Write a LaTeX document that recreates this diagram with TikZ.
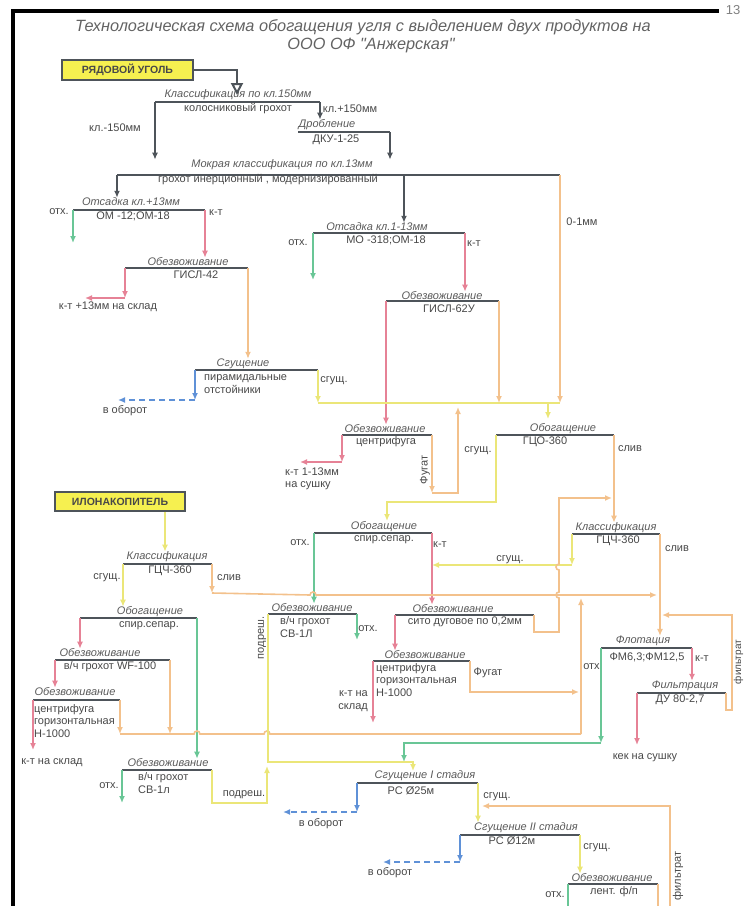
\documentclass[tikz,border=0pt]{standalone}
\usepackage{fontspec}
\setmainfont{Liberation Sans}
\newfontfamily\titrefont{Liberation Sans}[Ligatures=TeXOff]
\usepackage{tikz}
\usetikzlibrary{arrows.meta}

\definecolor{grisfonce}{RGB}{78,84,90}
\definecolor{gristexte}{RGB}{72,72,72}
\definecolor{vert}{RGB}{105,198,150}
\definecolor{rose}{RGB}{230,130,150}
\definecolor{peche}{RGB}{243,193,140}
\definecolor{jaune}{RGB}{235,230,120}
\definecolor{bleu}{RGB}{95,145,215}
\definecolor{fondjaune}{RGB}{246,240,80}

\tikzset{
  barre/.style={draw=grisfonce, line width=2pt},
  titre/.style={font=\itshape\fontsize{11}{13}\selectfont, text=gristexte!90, inner sep=0pt},
  texte/.style={font=\fontsize{11}{12.5}\selectfont, text=gristexte, inner sep=0pt},
  flux/.style={->, >={Latex[length=7pt, width=6pt]}, line width=1.6pt},
  trait/.style={line width=1.6pt},
  boite/.style={draw=grisfonce, line width=1.8pt, fill=fondjaune, inner sep=0pt,
    font=\bfseries\fontsize{10.5}{12}\selectfont, text=gristexte},
}

\begin{document}
\begin{tikzpicture}[x=1pt, y=-1pt]
\useasboundingbox (0,0) rectangle (744,906);

% Cadre de la page
\draw[line width=4pt] (12.5,906) -- (12.5,10.5) -- (719,10.5);
\node[font=\fontsize{13}{13}\selectfont, text=gray] (page) at (733,10) {13};

% Titre
\node[font=\titrefont\itshape\fontsize{16.3}{19}\selectfont, text=gristexte!85] (titre1) at (363,27)
  {Технологическая схема обогащения угля с выделением двух продуктов на};
\node[font=\titrefont\itshape\fontsize{16.3}{19}\selectfont, text=gristexte!85] (titre2) at (371,45)
  {ООО ОФ "Анжерская"};

% Les deux alimentations
\node[boite, minimum width=131pt, minimum height=20pt] (roc) at (127.5,70) {РЯДОВОЙ УГОЛЬ};
\node[boite, minimum width=130pt, minimum height=19pt] (ilon) at (120,501.5) {ИЛОНАКОПИТЕЛЬ};

% Barres des opérations : nom / début / fin / hauteur
\foreach \nom/\xa/\xb/\y in {kl/155/320/102, drob/298/390/132, mokr/117/560/175,
    ots1/73/205/210, gisl1/125/248/268, sgu1/195/318/370, ots2/313/465/233,
    gisl2/386/499/301, cent/342/432/435, gco/496/614/435, spir2/314/432/533,
    gcs2/572/660/534, gcs1/123/212/564, spir1/80/197/618, sv2/268/357/614,
    sito/395/534/615, wf/55/170/660, hor1/33/120/700, hor2/373/470/661,
    flot/601/692/648, filt/637/726/693, sv1/122/212/770, sgI/357/478/783,
    sgII/460/580/835, lent/568/658/884}{
  \draw[barre] (\xa,\y) coordinate (\nom-g) -- (\xb,\y) coordinate (\nom-d);
}

% Titres des opérations
\foreach \nom/\x/\y/\txt in {kl/238/95/Классификация по кл.150мм, drob/327/125/Дробление,
    mokr/282/165/Мокрая классификация по кл.13мм, ots1/131/202/Отсадка кл.+13мм,
    gisl1/188/262/Обезвоживание, sgu1/243/364/Сгущение, ots2/377/227/Отсадка кл.1-13мм,
    gisl2/442/296/Обезвоживание, cent/385/429/Обезвоживание, gco/563/429/Обогащение,
    spir2/384/527/Обогащение, gcs2/616/528/Классификация, gcs1/167/557/Классификация,
    spir1/150/612/Обогащение, sv2/312/608/Обезвоживание, sito/453/609/Обезвоживание,
    wf/100/653/Обезвоживание, hor1/75/692/Обезвоживание, hor2/425/655/Обезвоживание,
    flot/643/641/Флотация, filt/685/686/Фильтрация, sv1/168/763/Обезвоживание,
    sgI/425/776/Сгущение I стадия, sgII/526/828/Сгущение II стадия,
    lent/612/878/Обезвоживание}{
  \node[titre] (t-\nom) at (\x,\y) {\txt};
}

% Machines
\foreach \nom/\x/\y/\txt in {kl/238/109/колосниковый грохот, drob/336/140/ДКУ-1-25,
    mokr/268/180/{грохот инерционный , модернизированный}, ots1/133/216/ОМ -12;ОМ-18,
    gisl1/196/275/ГИСЛ-42, ots2/386/240/МО -318;ОМ-18, gisl2/449/309/ГИСЛ-62У,
    cent/386/442/центрифуга, gco/545/442/ГЦО-360, spir2/384/540/спир.сепар.,
    gcs2/618/541/ГЦЧ-360, gcs1/170/571/ГЦЧ-360, spir1/149/626/спир.сепар.,
    sito/465/622/{сито дуговое по 0,2мм}, flot/647/657/{ФМ6,3;ФМ12,5},
    filt/680/700/{ДУ 80-2,7}, sgI/411/791/РС Ø25м, sgII/512/841/РС Ø12м}{
  \node[texte] (m-\nom) at (\x,\y) {\txt};
}
\node[texte, align=left, anchor=west] (m-sgu1) at (204,384) {пирамидальные\\отстойники};
\node[texte, align=left, anchor=west] (m-sv2) at (280,627) {в/ч грохот\\СВ-1Л};
\node[texte] (m-wf) at (110,667) {в/ч грохот WF-100};
\node[texte, align=left, anchor=west] (m-hor1) at (34,721) {центрифуга\\горизонтальная\\Н-1000};
\node[texte, align=left, anchor=west] (m-hor2) at (376,680) {центрифуга\\горизонтальная\\Н-1000};
\node[texte, align=left, anchor=west] (m-sv1) at (138,783) {в/ч грохот\\СВ-1л};
\node[texte] (m-lent) at (614,892) {лент. ф/п};

% Étiquettes des produits
\foreach \nom/\x/\y/\txt in {kl150m/115/128/кл.-150мм, kl150p/350/109/кл.+150мм,
    fin/582/222/0-1мм, otx1/59/212/отх., kt1/216/213/к-т, sklad1/108/307/к-т +13мм на склад,
    sg1/334/381/сгущ., obo1/125/411/в оборот, otx2/298/243/отх., kt2/474/244/к-т,
    sg2/478/451/сгущ., sliv1/630/449/слив, otx3/300/543/отх., kt3/440/545/к-т,
    sg3/510/560/сгущ., sliv2/677/549/слив, sg4/107/578/сгущ., sliv3/229/578/слив,
    otx4/368/629/отх., fug2/488/673/Фугат, otx5/593/667/отх., kt5/702/659/к-т,
    kek/645/758/кек на сушку, sklad2/52/763/к-т на склад, otx6/109/786/отх.,
    podr2/244/795/подреш., obo2/321/824/в оборот, sg5/497/797/сгущ.,
    obo3/390/873/в оборот, sg6/597/848/сгущ., otx7/555/895/отх.}{
  \node[texte] (e-\nom) at (\x,\y) {\txt};
}
\node[texte, align=left, anchor=west] (e-kt13) at (285,479) {к-т 1-13мм\\на сушку};
\node[texte, align=right, anchor=east] (e-sklad3) at (368,701) {к-т на\\склад};
\node[texte, rotate=90] (e-fug1) at (425,470) {Фугат};
\node[texte, rotate=90] (e-podr1) at (262,638) {подреш.};
\node[texte, rotate=90] (e-filtr1) at (678,876) {фильтрат};
\node[texte, rotate=90, font=\fontsize{10}{11}\selectfont] (e-filtr2) at (738.5,662) {фильтрат};

% Points de jonction
\coordinate (mokr-m) at (404,175);
\coordinate (col1-g) at (318,403);
\coordinate (col1-m) at (548,403);
\coordinate (col1-d) at (560,403);
\coordinate (col2-g) at (120,734);
\coordinate (col2-d) at (581,734);

% Circuit principal
\draw[grisfonce, line width=2pt, -{Triangle[open, length=12pt, width=12pt]}] (roc.east) -| (237,95);
\foreach \source/\dest in {kl-g/t-mokr, kl-d/t-drob, drob-d/t-mokr, mokr-g/t-ots1, mokr-m/t-ots2}{
  \draw[flux, grisfonce, line width=2pt] (\source) -- (\source |- \dest.north);
}

% Produits qui vont d'une opération à la suivante
\foreach \source/\dest/\coul in {ots1-d/t-gisl1/rose, gisl1-d/t-sgu1/peche, ots2-d/t-gisl2/rose,
    gisl2-g/t-cent/rose, gco-d/t-gcs2/peche, spir2-g/t-sv2/vert, spir2-d/t-sito/rose,
    sito-g/t-hor2/rose, gcs1-g/t-spir1/jaune, spir1-g/t-wf/rose, spir1-d/t-sv1/vert,
    wf-g/t-hor1/rose, flot-d/t-filt/rose, gcs2-d/t-flot/peche, sgI-d/t-sgII/jaune,
    sgII-d/t-lent/jaune}{
  \draw[flux, \coul] (\source) -- (\source |- \dest.north);
}
\coordinate (ilon-s) at ([xshift=45pt]ilon.south);
\draw[flux, jaune] (ilon-s) -- (ilon-s |- t-gcs1.north);

% Collecteur 0-1 мм
\draw[trait, jaune] (col1-g) -- (col1-d);
\draw[flux, peche] (mokr-d) -- (col1-d);
\draw[flux, jaune] (sgu1-d) -- (col1-g);
\draw[flux, peche] (gisl2-d) -- (gisl2-d |- col1-g);
\draw[flux, jaune] (col1-m) -- ++(0,16);

% Rejets
\draw[flux, vert] (ots1-g) -- ++(0,33);
\draw[flux, vert] (ots2-g) -- ++(0,47);
\draw[flux, vert] (sv2-d) -- ++(0,26);
\draw[flux, vert] (sv1-g) -- ++(0,33);
\draw[trait, vert] (lent-g) -- ++(0,25);
\draw[flux, vert] (flot-g) -- ++(0,95) coordinate (flot-c);
\draw[flux, vert] (flot-c) -| (404,762);

% Concentrés
\draw[flux, rose] (gisl1-g) -- ++(0,30) coordinate (gisl1-c);
\draw[flux, rose] (gisl1-c) -- ++(-40,0);
\draw[flux, rose] (cent-g) -- ++(0,27) coordinate (cent-c);
\draw[flux, rose] (cent-c) -- ++(-42,0);
\draw[flux, rose] (hor2-g) -- ++(0,62);
\draw[flux, rose] (hor1-g) -- ++(0,50);
\draw[flux, rose] (filt-g) -- ++(0,52);

% Eau en circulation
\draw[flux, bleu] (sgu1-g) -- ++(0,30) coordinate (sgu1-c);
\draw[flux, bleu, dash pattern=on 6pt off 4pt] (sgu1-c) -- ++(-77,0);
\draw[flux, bleu] (sgI-g) -- ++(0,29) coordinate (sgI-c);
\draw[flux, bleu, dash pattern=on 6pt off 4pt] (sgI-c) -- ++(-74,0);
\draw[flux, bleu] (sgII-g) -- ++(0,27) coordinate (sgII-c);
\draw[flux, bleu, dash pattern=on 6pt off 4pt] (sgII-c) -- ++(-77,0);

% Fugat, сгущ. et слив
\draw[flux, peche] (cent-d) -- ++(0,58) coordinate (cent-f);
\draw[flux, peche] (cent-f) -| (458,407);
\draw[flux, jaune] (gco-g) |- (387,502) -- (387,521);
\draw[flux, jaune] (gcs2-g) -- ++(0,31) coordinate (gcs2-c);
\draw[flux, jaune] (gcs2-c) -- (gcs2-c -| spir2-d);
\draw[flux, peche] (sito-d) |- (559,632) -- (559,598) arc[start angle=90, end angle=270, radius=3]
  -- (559,570) arc[start angle=90, end angle=270, radius=3] -- (559,498) -- (612,498);
\draw[flux, peche] (gcs1-d) -- ++(0,29) coordinate (gcs1-c);
\draw[flux, peche] (gcs1-c) -- (310,595) arc[start angle=180, end angle=360, radius=3] -- (657,595);

% Collecteur du bas
\draw[trait, peche] (col2-g) -- (194,734) arc[start angle=180, end angle=360, radius=3]
  -- (264,734) arc[start angle=180, end angle=360, radius=3] -- (col2-d);
\draw[flux, peche] (hor1-d) -- (col2-g);
\draw[flux, peche] (wf-d) -- (wf-d |- col2-g);
\draw[flux, peche] (col2-d) -- ++(0,-136);
\draw[flux, peche] (hor2-d) |- (579,692);

% Подрешетный продукт
\draw[flux, jaune] (sv2-g) |- (413,762) -- (413,771);
\draw[flux, jaune] (sv1-d) |- (267,803) -- (267,766);

% Фильтрат
\draw[flux, peche] (filt-d) |- (732,710) |- (662,615);
\draw[flux, peche] (670,906) |- (482,806);
\draw[trait, peche] (lent-d) -- ++(0,25);
\end{tikzpicture}
\end{document}
